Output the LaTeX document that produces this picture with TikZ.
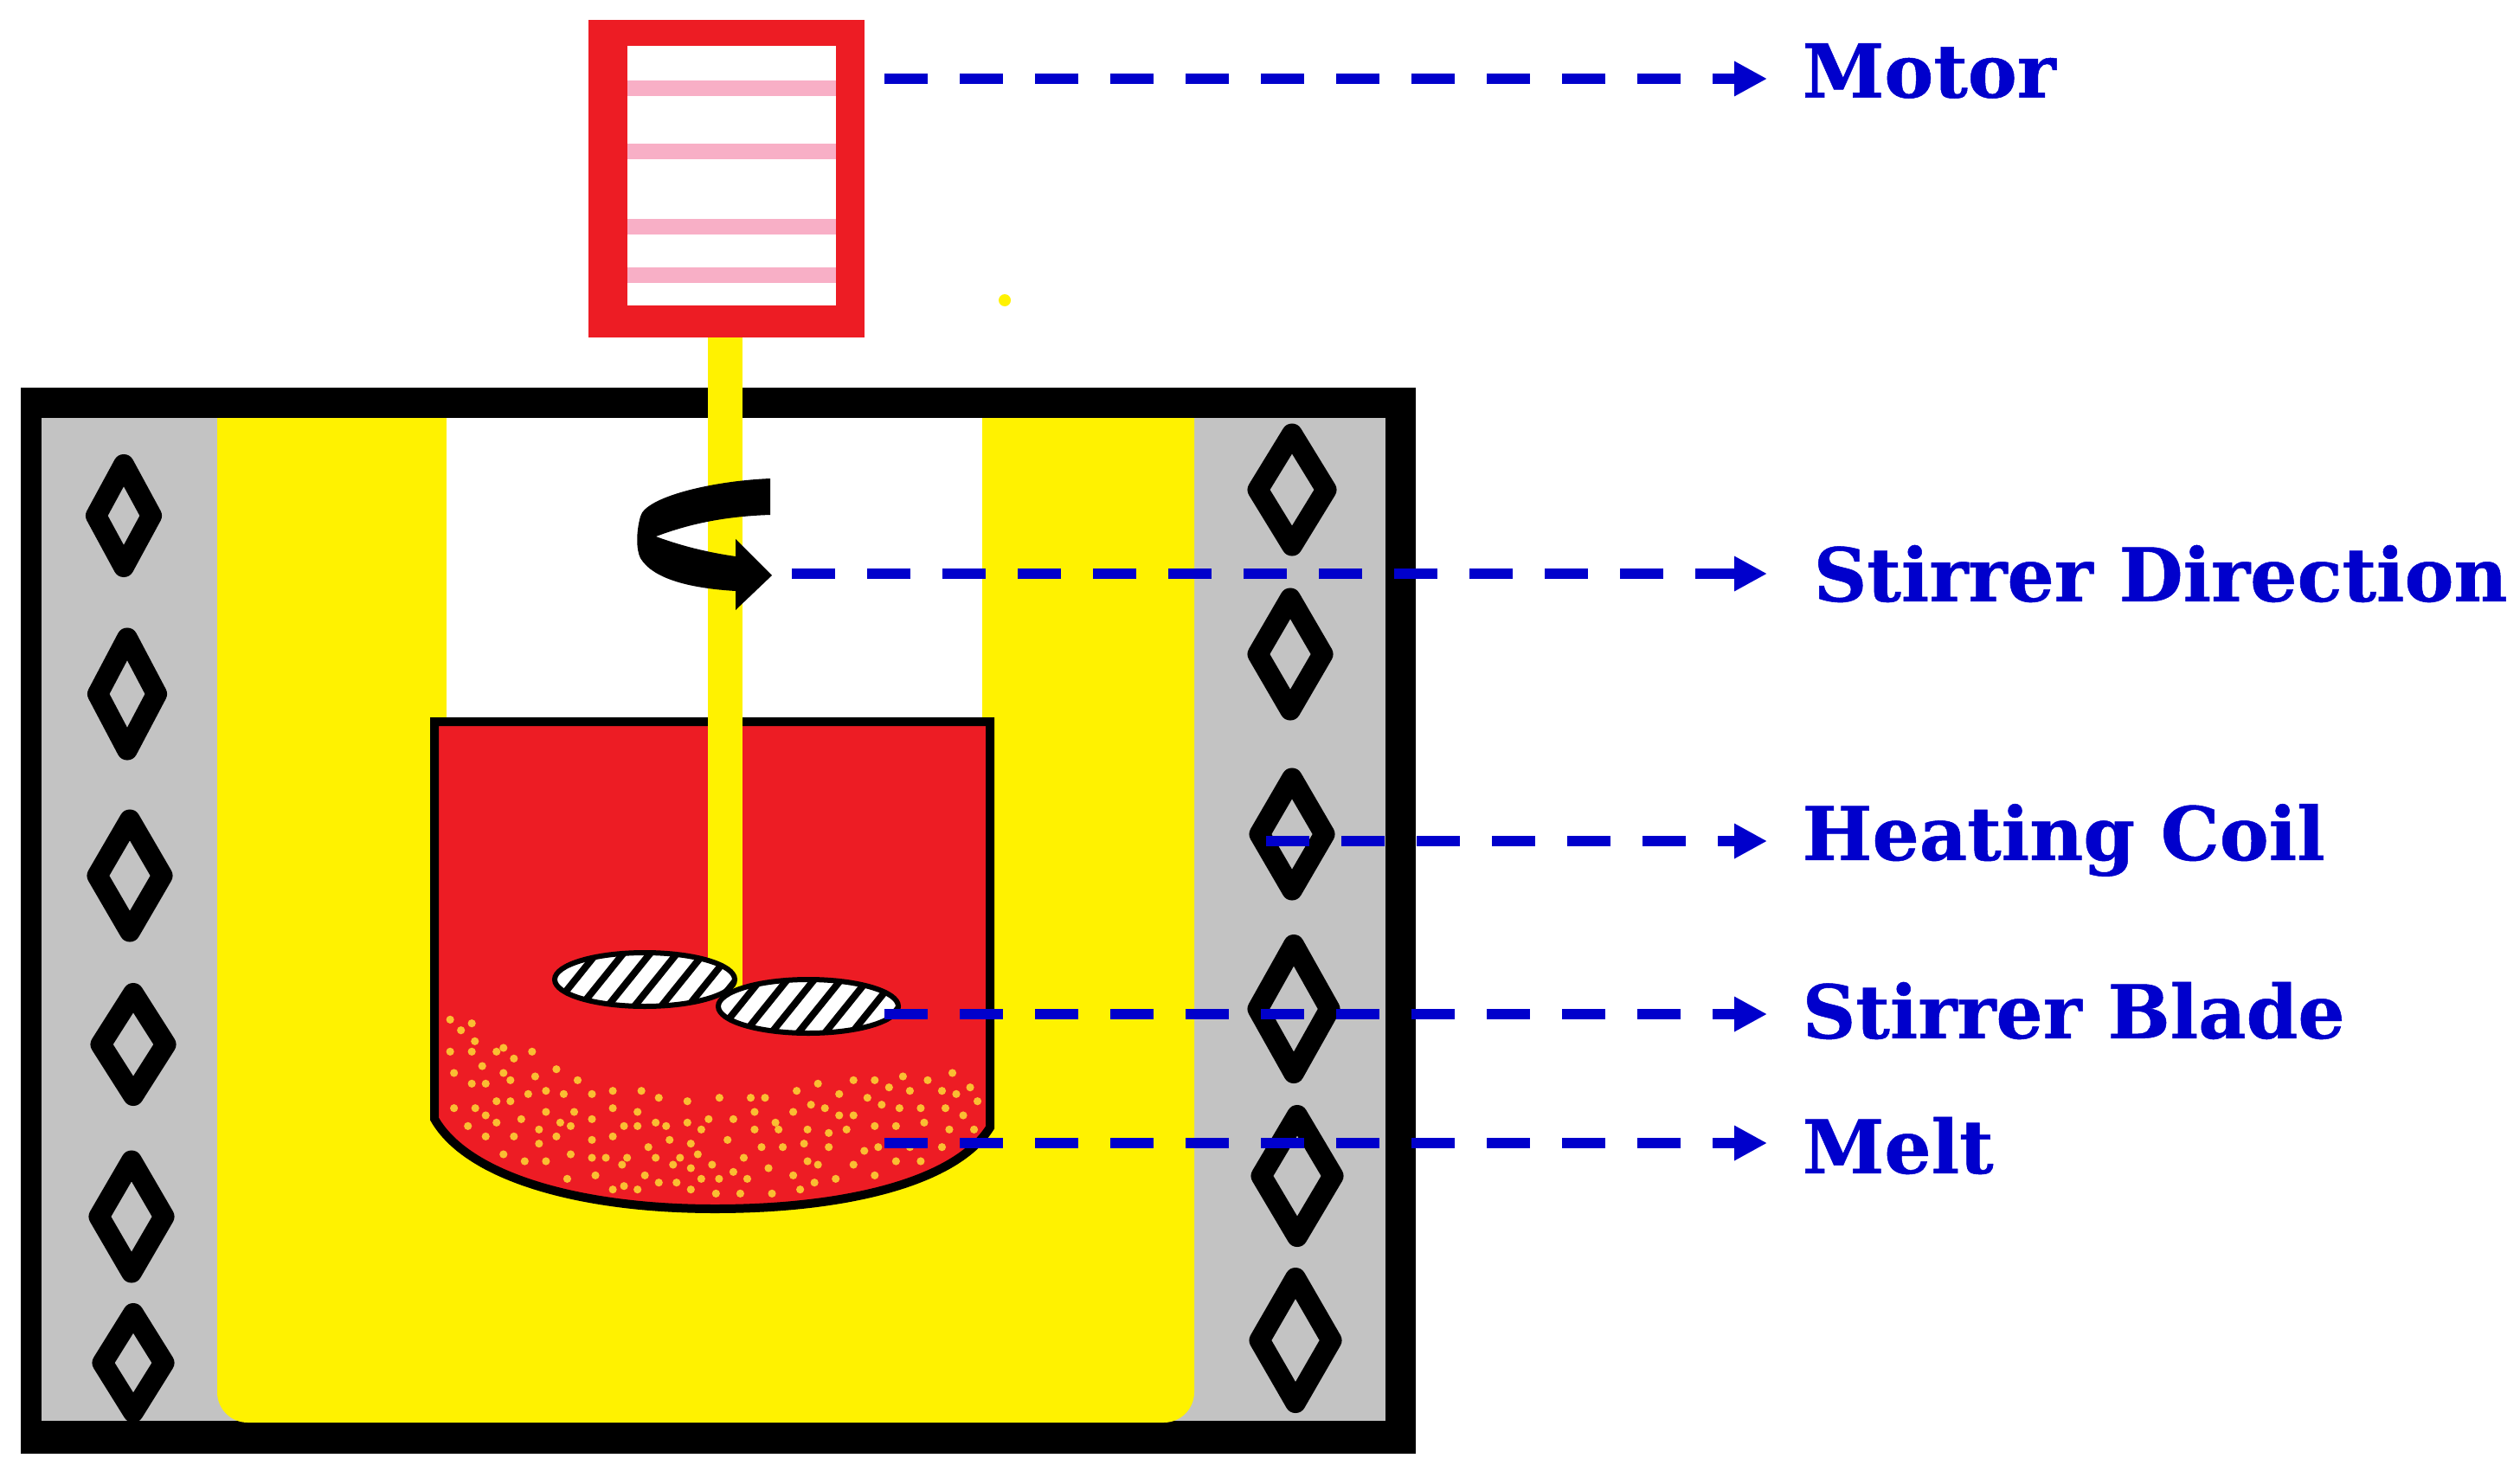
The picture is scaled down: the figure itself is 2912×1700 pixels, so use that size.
\documentclass[tikz,border=0pt]{standalone}
\usepackage{fontspec}
\setmainfont[BoldFeatures={FakeBold=0.6}]{DejaVu Serif}
\usetikzlibrary{shapes,arrows.meta}
\definecolor{furnacered}{RGB}{237,28,36}
\definecolor{wallyellow}{RGB}{255,242,0}
\definecolor{coilgrey}{RGB}{195,195,195}
\definecolor{stripepink}{RGB}{248,175,198}
\definecolor{leaderblue}{RGB}{0,0,204}
\definecolor{sparkorange}{RGB}{250,190,50}
\tikzstyle{coil} = [diamond, draw=black, line width=24*0.01cm, line join=round, inner sep=0pt]
\tikzstyle{leader} = [draw=leaderblue, line width=12*0.01cm, dash pattern=on 50*0.01cm off 37*0.01cm, -{Triangle[length=38*0.01cm,width=38*0.01cm,fill=leaderblue]}]
\tikzstyle{caption} = [anchor=west, inner ysep=0pt, inner xsep=40*0.01cm, text=leaderblue, font=\fontsize{24.3}{24.3}\selectfont\bfseries]
\tikzstyle{stripe} = [draw=stripepink, line width=18*0.01cm]
\tikzstyle{hatch} = [draw=black, line width=8*0.01cm]

\begin{document}
\begin{tikzpicture}[x=0.01cm,y=-0.01cm]
        \useasboundingbox (0,0) rectangle (2912,1700);
        % furnace
        \fill [black] (24,448) rectangle (1636,1680);
        \fill [coilgrey] (48,483) rectangle (1601,1642);
        \fill [wallyellow, rounded corners=10] (251,483) [sharp corners] -- (251,483) [rounded corners=10] -- (251,1644) -- (1380,1644) [sharp corners] -- (1380,483) -- cycle;
        \fill [white] (516,483) rectangle (1135,840);
        % coils
        \foreach \n/\x/\y/\w/\h in {a/143/596/74/128, b/147/802/78/139, c/150/1012/85/139, d/154/1207/85/128, e/152/1406/85/139, f/154/1575/81/124, g/1493/566/89/139, h/1491/756/85/139, i/1493/964/85/139, j/1495/1166/93/158, k/1499/1359/93/150, l/1497/1549/93/154}
        \node (coil\n) [coil, minimum width=\w*0.01cm, minimum height=\h*0.01cm] at (\x,\y) {};
        % crucible
        \fill [furnacered] (502,834) -- (1144,834) -- (1144,1303) .. controls (1105,1365) and (980,1397) .. (826,1397) .. controls (670,1397) and (540,1360) .. (502,1293) -- cycle;
        \foreach \a/\b in {90/385,146/398,118/422,154/460,90/496,146/496,210/496,228/483,255/520,302/496,173/546,100/570,228/570,246/595,146/607,182/607,310/582,365/557,420/595,292/643,338/632,384/643,457/643,511/632,585/632,630/656,704/668,787/656,868/656,905/656,987/632,1042/607,1097/643,1134/595,1189/595,1226/620,1262/582,1280/632,1326/595,1390/570,1363/632,1400/643,1436/620,1455/668,210/668,246/668,100/692,155/692,182/717,210/742,274/730,338/705,411/705,375/742,402/754,457/730,511/692,575/705,540/754,575/754,622/742,649/754,704/742,759/730,740/766,823/730,878/705,878/766,932/742,940/766,978/705,1024/680,1060/692,1097/717,1134/717,1170/656,1207/680,1253/692,1308/692,1372/692,1418/717,1317/742,1244/754,1189/754,1116/766,1070/778,1015/766,1382/766,1446/766,136/754,320/766,182/790,255/790,365/790,320/815,457/802,511/790,658/802,713/815,603/827,808/802,896/827,951/827,1006/815,1070/827,1162/840,1198/827,1280/827,1363/827,228/852,402/852,457/864,493/864,548/864,622/864,685/864,731/852,850/864,283/876,338/876,535/888,667/888,713/900,768/888,914/900,1015/876,1042/888,1134/888,1244/876,1308/876,466/925,594/925,823/913,978/925,1189/925,393/937,740/937,786/937,859/937,1088/937,630/950,676/950,1033/950,540/962,511/974,575/974,713/974,996/974,778/988,841/988,923/988}
        \fill [sparkorange] ({480+\a/2.24},{1050+\b/3}) circle (4.6);
        \draw [black, line width=10*0.01cm] (502,834) -- (1144,834) -- (1144,1303) .. controls (1105,1365) and (980,1397) .. (826,1397) .. controls (670,1397) and (540,1360) .. (502,1293) -- cycle;
        % motor and shaft
        \fill [wallyellow] (818,385) rectangle (858,1145);
        \fill [furnacered] (680,23) rectangle (999,390);
        \fill [white] (725,53) rectangle (966,353);
        \draw [stripe] (725,102) -- (966,102);
        \draw [stripe] (725,175) -- (966,175);
        \draw [stripe] (725,262) -- (966,262);
        \draw [stripe] (725,318) -- (966,318);
        \fill [wallyellow] (1161,347) circle (7);
        % stirrer blades
        \foreach \cx/\cy in {745/1132, 934/1163} {
        \fill [white] (\cx,\cy) ellipse (104 and 31);
        \begin{scope}
        \clip (\cx,\cy) ellipse (104 and 31);
        \foreach \s in {-111,-80,...,125}
        \draw [hatch] ({\cx+\s-29},{\cy+36}) -- ({\cx+\s+29},{\cy-36});
        \end{scope}
        \draw [black, line width=6*0.01cm] (\cx,\cy) ellipse (104 and 31);
        }
        % rotation arrow
        \fill [black] (890,553) .. controls (820,556) and (745,575) .. (740,597) .. controls (735,615) and (735,635) .. (740,645) .. controls (755,670) and (800,680) .. (850,683) -- (850,705) -- (892,665) -- (850,623) -- (850,643) .. controls (815,638) and (785,630) .. (758,620) .. controls (790,608) and (830,597) .. (890,595) -- cycle;
        % labels
        \node (motor) [caption] at (2042,82) {Motor};
        \node (direction) [caption, inner xsep=53*0.01cm] at (2042,663) {Stirrer Direction};
        \node (coillabel) [caption] at (2042,971) {Heating Coil};
        \node (blade) [caption] at (2042,1168) {Stirrer Blade};
        \node (melt) [caption] at (2042,1324) {Melt};
        \coordinate (motorpt) at (1022,91);
        \coordinate (directionpt) at (915,663);
        \coordinate (coilpt) at (1463,972);
        \coordinate (bladept) at (1022,1172);
        \coordinate (meltpt) at (1022,1321);
        \draw [leader] (motorpt) -- (motorpt -| motor.west);
        \draw [leader] (directionpt) -- (directionpt -| direction.west);
        \draw [leader] (coilpt) -- (coilpt -| coillabel.west);
        \draw [leader] (bladept) -- (bladept -| blade.west);
        \draw [leader] (meltpt) -- (meltpt -| melt.west);
\end{tikzpicture}
\end{document}
